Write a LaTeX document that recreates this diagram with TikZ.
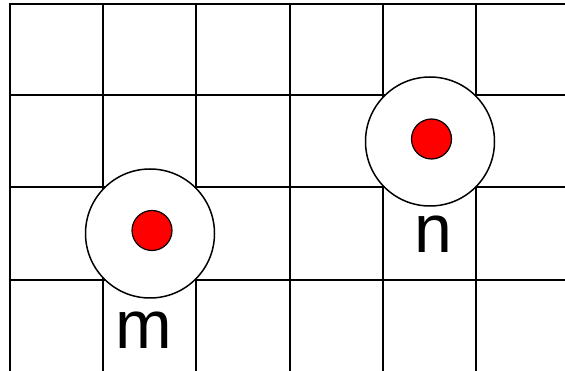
\documentclass[tikz,border=0pt]{standalone}
\usepackage{fontspec}
\setmainfont{Liberation Sans}
\begin{document}
\begin{tikzpicture}[x=1pt,y=-1pt,
  gridline/.style={line width=2pt,black},
  ring/.style={circle,draw=black,line width=1.5pt,fill=white,minimum size=129pt,inner sep=0pt},
  dot/.style={circle,draw=black,line width=1.2pt,fill=red,minimum size=40pt,inner sep=0pt},
  lbl/.style={font=\fontsize{68pt}{68pt}\selectfont,inner sep=0pt,anchor=base}]
\useasboundingbox (0,0) rectangle (565,371);
% grid
\foreach \x in {9.5,103,196,289.5,383,476}
  \draw[gridline] (\x,4) -- (\x,372);
\foreach \y in {4,95.5,187.5,280.5}
  \draw[gridline] (8.5,\y) -- (566,\y);
% rings and dots
\node[ring] (ringm) at (150,233.5) {};
\node[dot] (dotm) at (152,230.5) {};
\node[ring] (ringn) at (430,141.5) {};
\node[dot] (dotn) at (431.5,139) {};
% labels
\node[lbl] (labm) at (144,348.5) {m};
\node[lbl] (labn) at (433,253) {n};
\end{tikzpicture}
\end{document}
